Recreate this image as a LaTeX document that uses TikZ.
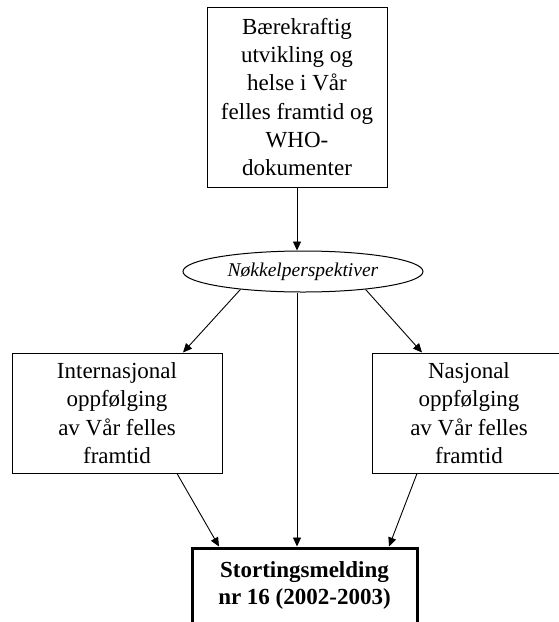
\documentclass[tikz,border=0pt]{standalone}
\usepackage{fontspec}
\setmainfont{Liberation Serif}
\usetikzlibrary{arrows.meta,shapes.geometric}

\begin{document}
\begin{tikzpicture}[x=1pt,y=-1pt,
  box/.style={draw, line width=1pt, rectangle, inner sep=0pt, align=center,
    font=\fontsize{23}{28.3}\selectfont},
  thickbox/.style={draw, line width=3pt, rectangle, inner sep=0pt},
  oval/.style={draw, line width=1pt, ellipse, inner sep=0pt,
    font=\fontsize{19.5}{23}\selectfont\itshape},
  conn/.style={line width=0.9pt, -{Triangle[length=9pt,width=8pt]}},
]
\useasboundingbox (0,0) rectangle (559,622);
\clip (0,0) rectangle (559,622);

% source box
\node[box, minimum width=180, minimum height=180] (top) at (297,97)
  {Bærekraftig\\utvikling og\\helse i Vår\\felles framtid og\\WHO-\\dokumenter};

% key perspectives
\node[oval, minimum width=240, minimum height=41] (ell) at (303,271.5)
  {Nøkkelperspektiver};

% follow-up boxes
\node[box, minimum width=210, minimum height=120] (lb) at (117,413)
  {Internasjonal\\oppfølging\\av Vår felles\\framtid};
\node[box, minimum width=194, minimum height=120] (rb) at (469,413)
  {Nasjonal\\oppfølging\\av Vår felles\\framtid};

% white paper box
\node[thickbox, minimum width=225, minimum height=110] (sm) at (304.5,603) {};
\node[align=center, font=\fontsize{23}{27}\selectfont\bfseries] (smT) at (304.5,585)
  {Stortingsmelding\\nr 16 (2002-2003)};

% connectors
\draw[conn] (top.south) -- (top.south |- ell.north);
\draw[conn] (ell.196) -- ([xshift=66pt]lb.north);
\draw[conn] (ell.344) -- ([xshift=-47pt]rb.north);
\draw[conn] (top.south |- ell.south) -- (top.south |- sm.north);
\draw[conn] ([xshift=60pt]lb.south) -- ([xshift=-85.5pt]sm.north);
\draw[conn] ([xshift=-52pt]rb.south) -- ([xshift=84.5pt]sm.north);
\end{tikzpicture}
\end{document}
